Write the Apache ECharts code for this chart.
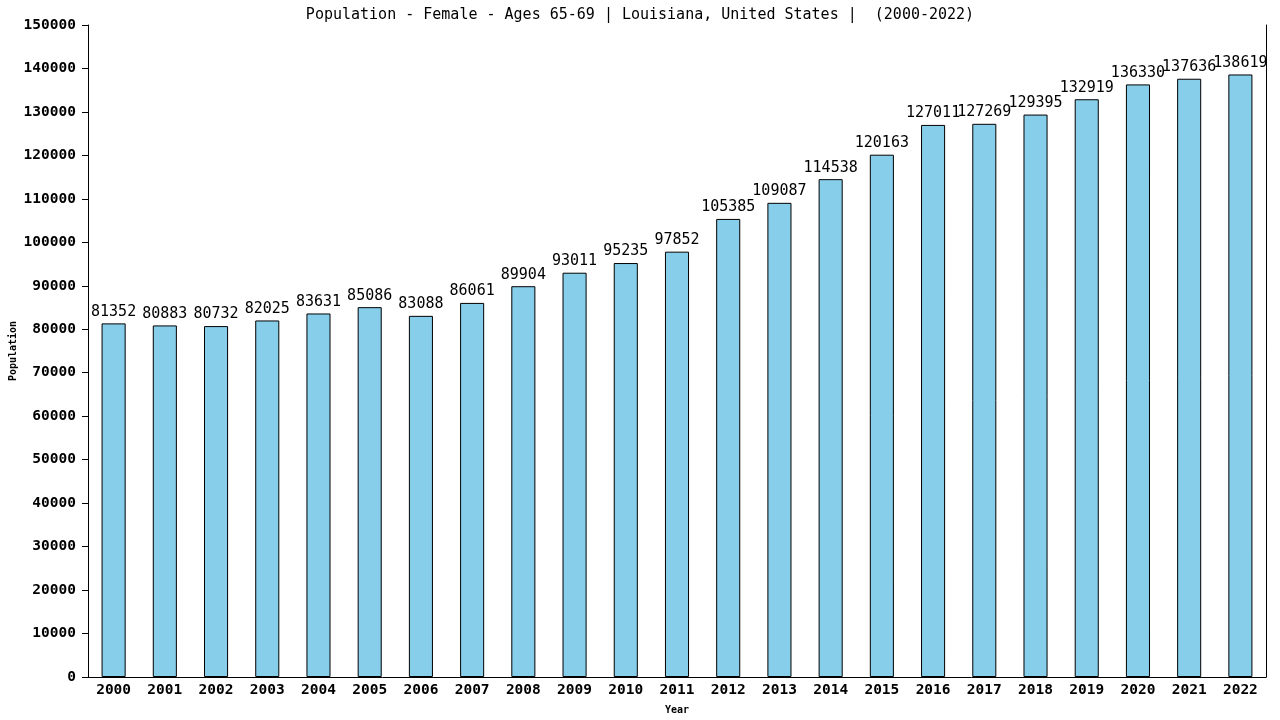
<!DOCTYPE html>
<html>
<head>
	<meta charset="utf-8">
	<title>Population - Female - Ages 65-69</title>
	<script src="https://cdn.jsdelivr.net/npm/echarts@6/dist/echarts.min.js"></script>
	<style>body{margin:0;background:#fff;}</style>
</head>
<body>
	<div id="main" style="width: 1280px;height: 720px;"></div>
	<script>
		// data
		var years = ['2000','2001','2002','2003','2004','2005','2006','2007','2008','2009','2010','2011',
			'2012','2013','2014','2015','2016','2017','2018','2019','2020','2021','2022'];
		var population = [81352, 80883, 80732, 82025, 83631, 85086, 83088, 86061, 89904, 93011, 95235, 97852,
			105385, 109087, 114538, 120163, 127011, 127269, 129395, 132919, 136330, 137636, 138619];

		var font = 'DejaVu Sans Mono';
		var myCharts = echarts.init(document.getElementById('main'));
		var option = {
			animation: false,
			// 标题
			title: {
				text: 'Population - Female - Ages 65-69 | Louisiana, United States |  (2000-2022)',
				left: 'center',
				top: 3,
				textStyle: { fontFamily: font, fontSize: 15, fontWeight: 'normal', color: '#000' }
			},
			grid: { left: 88, right: 14, top: 25, bottom: 43, containLabel: false, outerBoundsMode: 'none' },
			xAxis: {
				type: 'category',
				data: years,
				name: 'Year',
				nameLocation: 'middle',
				nameGap: 28,
				nameMoveOverlap: false,
				nameTextStyle: { fontFamily: font, fontSize: 10, fontWeight: 'bold', color: '#000' },
				axisLine: { lineStyle: { color: '#000' } },
				axisTick: { show: false },
				axisLabel: { fontFamily: font, fontSize: 14.5, fontWeight: 'bold', color: '#000', margin: 6, interval: 0 }
			},
			yAxis: [{
				type: 'value',
				min: 0,
				max: 150000,
				interval: 10000,
				name: 'Population',
				nameLocation: 'middle',
				nameGap: 70,
				nameMoveOverlap: false,
				nameTextStyle: { fontFamily: font, fontSize: 10, fontWeight: 'bold', color: '#000' },
				axisLine: { show: true, lineStyle: { color: '#000' } },
				axisTick: { show: true, length: 6, lineStyle: { color: '#000' } },
				axisLabel: {
					fontFamily: font, fontSize: 14.5, fontWeight: 'bold', color: '#000', margin: 12,
					formatter: function (v) { return String(v); }
				},
				splitLine: { show: false }
			}, {
				type: 'value',
				min: 0,
				max: 150000,
				position: 'right',
				axisLine: { show: true, lineStyle: { color: '#000' } },
				axisTick: { show: false },
				axisLabel: { show: false },
				splitLine: { show: false }
			}],
			// 数据
			series: [{
				name: 'Population',
				type: 'bar',
				data: population,
				barWidth: '47%',
				itemStyle: { color: '#87CEEB', borderColor: '#000', borderWidth: 1 },
				label: {
					show: true,
					position: 'top',
					distance: 4,
					fontFamily: font,
					fontSize: 15,
					color: '#000'
				}
			}]
		};
		myCharts.setOption(option);
	</script>
</body>
</html>
